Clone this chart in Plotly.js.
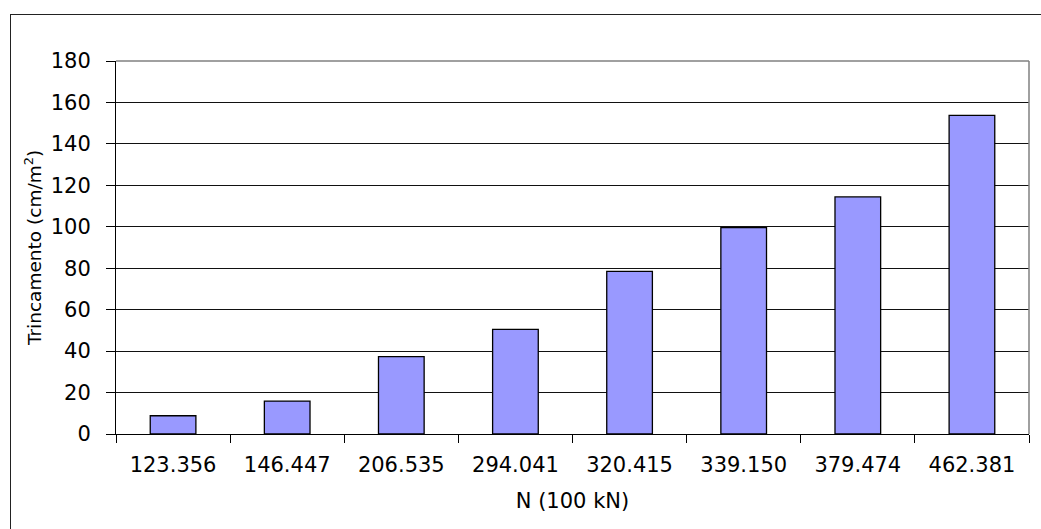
<!DOCTYPE html>
<html>
<head>
<meta charset="utf-8">
<script src="https://cdn.plot.ly/plotly-3.0.1.min.js"></script>
<style>
  html, body { margin: 0; padding: 0; background: #fff; overflow: hidden; }
  #frame { position: absolute; left: 10px; top: 14px; width: 1100px; height: 600px; border: 1px solid #222; }
  #chart { position: absolute; left: 0; top: 0; width: 1041px; height: 529px; }
</style>
</head>
<body>
<div id="frame"></div>
<div id="chart"></div>
<script>
const categories = ["123.356", "146.447", "206.535", "294.041", "320.415", "339.150", "379.474", "462.381"];
const trincamento = [8.8, 15.9, 37.3, 50.5, 78.5, 99.6, 114.4, 153.8];
const yTicks = [0, 20, 40, 60, 80, 100, 120, 140, 160, 180];

const font = "DejaVu Sans, Liberation Sans, Arial, sans-serif";

const trace = {
  type: "bar",
  x: categories,
  y: trincamento,
  marker: { color: "#9999FF", line: { color: "#000000", width: 1.3 } },
  hoverinfo: "x+y"
};

const layout = {
  width: 1041,
  height: 529,
  margin: { l: 116, r: 12, t: 61, b: 95, pad: 0 },
  paper_bgcolor: "rgba(0,0,0,0)",
  plot_bgcolor: "rgba(0,0,0,0)",
  bargap: 0.6,
  showlegend: false,
  font: { family: font, color: "#000", size: 21 },
  xaxis: {
    type: "category",
    tickson: "boundaries",
    ticks: "outside",
    ticklen: 8,
    tickcolor: "#000",
    showline: true,
    linecolor: "#000",
    linewidth: 1,
    showgrid: false,
    zeroline: false,
    ticklabelstandoff: 12,
    tickfont: { family: font, size: 21, color: "#000" },
    title: { text: "N (100 kN)", font: { family: font, size: 21, color: "#000" }, standoff: 17 }
  },
  yaxis: {
    range: [0, 180],
    tickvals: yTicks,
    ticktext: yTicks.map(String),
    ticks: "outside",
    ticklen: 9,
    tickcolor: "#000",
    showline: true,
    linecolor: "#000",
    linewidth: 1,
    showgrid: true,
    gridcolor: "#111",
    gridwidth: 1,
    zeroline: false,
    ticklabelstandoff: 11,
    tickfont: { family: font, size: 21, color: "#000" },
    title: { text: "Trincamento (cm/m<sup>2</sup>)", font: { family: font, size: 18.5, color: "#000" }, standoff: 4 }
  },
  shapes: [
    { type: "line", xref: "paper", yref: "paper", x0: 0, x1: 1, y0: 1, y1: 1, line: { color: "#808080", width: 1.5 }, layer: "above" },
    { type: "line", xref: "paper", yref: "paper", x0: 1, x1: 1, y0: 0, y1: 1, line: { color: "#808080", width: 1.5 }, layer: "above" }
  ]
};

Plotly.newPlot("chart", [trace], layout, { displayModeBar: false, staticPlot: true });
</script>
</body>
</html>
